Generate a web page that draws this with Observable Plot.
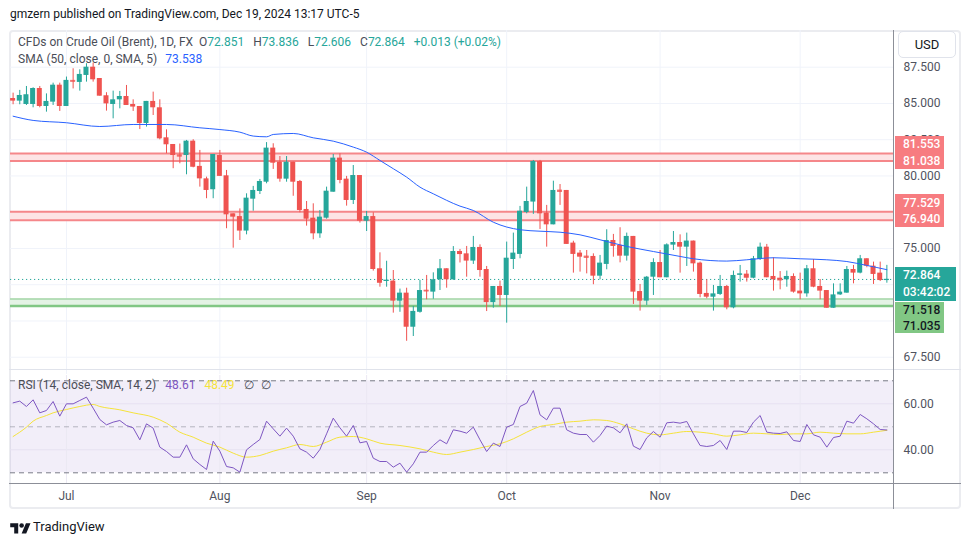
<!DOCTYPE html>
<html><head><meta charset="utf-8">
<script src="https://cdn.jsdelivr.net/npm/d3@7"></script>
<script src="https://cdn.jsdelivr.net/npm/@observablehq/plot@0.6"></script>
<style>
body{margin:0;background:#fff;font-family:Roboto,"Noto Sans",sans-serif;}
#root{position:relative;width:970px;height:545px;overflow:hidden;background:#fff;}
.abs{position:absolute;white-space:nowrap;}
.lbl{position:absolute;left:895px;font-size:12px;line-height:16.5px;padding-left:8px;box-sizing:border-box;font-weight:500;}
</style></head><body><div id="root"></div>
<script>
// ---- data ----
const opens  = [85.34,85.16,84.93,84.93,86.03,84.79,85.09,86.26,84.79,86.59,86.45,86.93,87.50,86.72,85.53,84.93,85.25,85.48,84.93,84.79,83.62,85.14,84.70,82.63,82.17,81.45,81.41,82.40,80.66,79.80,79.05,81.41,80.01,77.39,77.20,76.20,78.40,78.93,79.57,81.92,80.95,79.78,80.95,79.62,77.69,77.09,76.01,77.09,78.88,81.23,79.78,78.31,80.03,76.88,77.20,73.60,72.75,72.75,71.37,71.92,69.57,70.60,72.12,71.99,72.84,73.60,72.84,74.79,74.63,74.13,75.07,73.55,71.27,72.38,71.76,74.24,74.59,77.48,78.20,81.00,77.44,76.63,79.02,79.00,75.37,74.68,74.47,74.45,73.09,73.90,75.55,75.21,74.47,75.83,72.03,71.37,73.02,74.03,72.98,75.23,75.41,75.09,75.51,73.99,71.90,71.64,71.83,72.38,70.91,73.18,73.23,72.95,74.24,75.09,73.07,72.95,72.84,73.07,72.06,71.87,73.60,72.38,72.10,70.88,71.80,71.92,73.55,73.30,74.29,73.78,73.30,72.851];
const highs  = [85.71,85.90,86.17,86.08,86.17,85.66,86.40,86.40,86.82,87.39,87.32,87.74,87.78,86.72,85.74,85.85,85.83,86.24,85.25,84.79,85.14,85.78,85.25,83.18,82.17,82.20,82.45,82.50,81.76,79.92,81.48,81.76,80.38,77.39,77.73,78.77,79.28,79.76,82.30,82.22,81.34,81.34,80.95,79.69,78.24,78.08,77.62,79.23,81.48,81.53,79.97,80.72,80.03,77.55,77.46,74.70,74.12,73.48,72.20,72.26,71.00,72.80,73.14,73.32,74.24,73.60,75.13,74.93,75.14,75.83,75.25,73.76,72.38,72.75,75.44,76.06,77.90,79.23,81.07,81.07,77.97,79.64,79.41,79.00,75.50,74.86,74.86,74.63,74.52,76.29,75.97,76.43,76.06,75.83,72.52,73.07,74.29,74.86,75.32,76.17,75.94,76.06,75.51,74.06,72.84,72.45,73.14,72.45,73.44,73.83,73.48,74.45,75.37,75.28,74.36,73.41,73.44,73.25,73.30,73.83,74.24,72.86,72.10,72.56,72.56,73.76,73.83,74.52,74.29,74.06,74.06,73.836];
const lows   = [84.91,84.91,84.86,84.70,84.70,84.40,84.86,84.45,84.79,86.00,85.85,86.47,86.47,85.50,84.47,83.94,84.63,84.86,84.45,83.20,83.37,84.17,82.49,81.53,80.50,80.84,80.08,80.56,79.23,78.43,78.43,79.97,76.36,75.02,75.55,75.94,77.57,78.72,79.46,80.45,79.57,79.57,78.60,77.46,76.54,75.60,75.70,77.02,78.88,79.46,77.92,78.03,76.75,76.17,73.44,72.33,72.33,70.54,70.60,68.60,68.93,70.54,71.46,71.50,72.10,72.26,72.80,74.00,73.02,73.90,73.02,70.65,70.88,71.00,69.85,73.55,74.29,77.39,77.35,76.31,75.09,76.63,77.97,75.28,73.30,73.37,73.25,72.50,72.84,73.53,74.40,74.01,74.13,71.14,70.68,71.07,71.76,72.98,72.98,74.86,73.30,73.76,73.37,71.60,71.53,70.68,71.76,70.77,70.84,72.68,72.68,72.91,74.17,72.98,72.06,72.15,72.33,71.92,71.46,71.64,72.29,71.46,70.88,70.88,71.76,71.92,72.56,73.25,73.67,72.52,72.72,72.606];
const closes = [85.16,85.55,85.60,86.03,84.79,85.14,86.26,84.79,86.59,86.54,87.00,87.50,86.63,85.50,84.97,85.25,85.48,84.86,84.75,83.62,85.14,84.70,82.56,82.15,81.41,81.38,82.40,80.60,79.80,79.00,81.48,79.97,77.32,77.16,76.20,78.47,79.00,79.62,81.92,80.88,79.78,80.95,79.57,77.62,77.02,76.01,77.16,78.95,81.23,79.69,78.31,80.03,76.88,77.20,73.55,72.60,72.80,71.37,71.92,69.57,70.66,72.10,72.08,72.84,73.60,72.84,74.79,74.58,74.13,75.07,73.48,71.27,72.38,71.76,74.33,74.68,77.57,78.24,81.00,77.39,76.63,79.00,78.95,75.28,74.59,74.40,74.40,73.09,73.99,75.55,75.14,74.47,75.83,71.99,71.37,73.02,74.03,72.98,75.25,75.41,75.09,75.51,73.94,71.83,71.64,71.87,72.38,70.91,73.14,73.23,72.95,74.29,75.09,72.98,72.84,72.84,73.07,71.99,71.87,73.60,72.33,72.06,70.88,71.80,71.99,73.55,73.30,74.29,73.78,73.21,72.79,72.864];

const monthLabels   = ["Jul","Aug","Sep","Oct","Nov","Dec"];
const monthStartIdx = [8,31,53,74,97,118];
const priceTicks = [67.5,70,72.5,75,77.5,80,82.5,85,87.5];
// tick labels that are not hidden behind the price labels in the reference
const priceTickLabels = [67.5,75,80,82.5,85,87.5];

const smaIdx  = [0,3,8,13,18,23,28,31,34,36,38,39,42,45,48,51,53,55,57,59,61,63,67,69,72,76,79,82,85,88,92,96,100,102,107,110,114,118,122,125,128,131];
const smaVals = [84.12,83.83,83.67,83.41,83.55,83.55,83.32,83.2,83.02,82.75,82.7,82.86,82.93,82.63,82.4,81.99,81.64,81.07,80.5,79.92,79.23,78.77,77.92,77.62,76.81,76.29,76.19,76.12,75.94,75.6,75.14,74.79,74.45,74.29,74.13,74.22,74.36,74.29,74.22,74.1,73.83,73.538];

const zoneLow  = [81.038, 76.940, 71.035];
const zoneHigh = [81.553, 77.529, 71.518];
const zoneKind = ["res","res","sup"];

const lastClose = 72.864;
const countdown = "03:42:02";

const rsiVals = [60.42,61.15,58.83,61.73,56.07,57.09,61.0,54.62,59.99,59.99,
 61.44,62.89,58.1,53.17,50.86,52.02,52.74,50.57,49.55,44.34,
 51.29,49.41,41.15,39.26,36.8,36.8,42.16,36.07,33.61,31.44,
 43.76,39.41,32.74,32.16,30.28,39.99,42.31,44.48,52.45,49.12,
 45.93,49.41,45.93,40.42,38.97,36.36,40.13,46.94,53.75,49.55,
 45.93,50.57,43.03,43.61,36.36,34.91,34.91,32.45,34.19,30.28,
 33.9,38.97,38.97,41.87,44.34,42.6,48.68,48.1,47.23,49.84,
 44.34,39.26,42.89,41.44,49.84,51.0,58.83,60.28,65.78,55.2,
 53.03,58.1,58.1,48.68,47.23,46.65,46.65,43.32,46.22,50.28,
 49.55,47.38,51.29,41.58,40.13,45.2,47.96,45.49,51.73,52.02,
 51.58,52.31,46.94,41.87,41.44,41.87,44.05,40.13,48.1,48.1,
 47.52,52.02,54.91,47.67,47.23,47.09,47.81,44.05,43.61,51.0,
 46.51,45.49,41.15,45.35,45.93,52.45,51.58,55.35,53.47,51.29,
 48.83,48.61];
const rsiMaIdx  = [0,2,3,5,6,8,10,12,13,16,18,21,23,25,27,29,31,33,35,37,39,41,43,45,47,49,51,53,55,58,61,63,65,67,69,71,73,75,77,79,81,83,85,87,89,91,93,95,97,99,101,103,105,107,109,111,113,115,117,119,121,123,125,127,129,131];
const rsiMaVals = [45.78,49.84,52.45,54.91,56.07,57.52,58.83,59.7,58.83,57.38,56.07,54.19,51.58,47.67,45.49,42.89,41.15,38.54,36.8,37.52,39.41,40.86,42.31,41.44,43.32,45.49,45.78,44.77,42.89,41.87,40.42,38.97,37.96,38.97,40.13,41.44,42.6,44.77,47.67,50.13,51.0,52.02,52.45,53.03,52.74,51.29,49.12,47.23,46.51,47.23,47.96,47.67,46.94,45.93,46.51,47.23,46.94,46.65,46.94,46.94,47.67,47.23,46.94,46.94,47.67,48.49];
const rsiTicks  = [40, 60];
const rsiBounds = [30, 70];

// ---- build ----
const UP = "#26a69a", DOWN = "#ef5350";
const FONT = 'Roboto,"Noto Sans",sans-serif';
const candles = opens.map((o, i) => ({i, open: o, high: highs[i], low: lows[i], close: closes[i]}));
const col = d => d.close >= d.open ? UP : DOWN;
const sma = smaIdx.map((i, j) => ({i, v: smaVals[j]}));
const zones = zoneLow.map((lo, j) => ({lo, hi: zoneHigh[j], kind: zoneKind[j]}));
const rsi = rsiVals.map((v, i) => ({i, v}));
const rsiMa = rsiMaIdx.map((i, j) => ({i, v: rsiMaVals[j]}));

const xScale = {type: "band", domain: d3.range(opens.length), range: [9.27, 889.7],
  paddingInner: 0.25, paddingOuter: 0.125, align: 0.5, round: false};

const root = document.getElementById("root");
function div(css, html) { const e = document.createElement("div"); e.className = "abs"; e.style.cssText = css; if (html != null) e.innerHTML = html; root.appendChild(e); return e; }

// frame
div("left:9px;top:30px;width:952px;height:479px;border:2px solid #ebecf0;border-radius:4px;box-sizing:border-box;");

const price = Plot.plot({
  width: 970, height: 344, marginLeft: 10, marginRight: 77, marginTop: 0, marginBottom: 0,
  style: {fontFamily: FONT, fontSize: "12px", color: "#50535e", background: "transparent", overflow: "visible"},
  x: {...xScale, axis: null},
  y: {domain: [66.31, 90.03], axis: "right", ticks: priceTickLabels, tickFormat: d3.format(".3f"), tickSize: 0, tickPadding: 10, label: null},
  marks: [
    Plot.ruleY(priceTicks, {stroke: "#f0f3fa"}),
    Plot.ruleX(monthStartIdx, {x: d => d, stroke: "#f0f3fa"}),
    Plot.rect(zones, {y1: "lo", y2: "hi", fill: d => d.kind === "res" ? "#fde4e5" : "#e4f3e5"}),
    Plot.ruleY(zones, {y: "hi", stroke: d => d.kind === "res" ? "#f5878a" : "#a5d6a7", strokeWidth: d => d.kind === "res" ? 2 : 1.5}),
    Plot.ruleY(zones, {y: "lo", stroke: d => d.kind === "res" ? "#f5878a" : "#81c784", strokeWidth: d => d.kind === "res" ? 2 : 2.5}),
    Plot.ruleY([lastClose], {stroke: UP, strokeDasharray: "1.2,2.8"}),
    Plot.ruleX(candles, {x: "i", y1: "low", y2: "high", stroke: col, strokeWidth: 1}),
    Plot.barY(candles, {x: "i", y1: "open", y2: "close", fill: col}),
    Plot.tickY(candles.filter(d => Math.abs(d.close - d.open) < 0.12), {x: "i", y: "close", stroke: col, strokeWidth: 1.2}),
    Plot.line(sma, {x: "i", y: "v", stroke: "#2962ff", strokeWidth: 1, curve: "monotone-x"})
  ]
});
price.style.position = "absolute"; price.style.left = "0px"; price.style.top = "30px";
root.appendChild(price);

const rsiChart = Plot.plot({
  width: 970, height: 133, marginLeft: 10, marginRight: 77, marginTop: 0, marginBottom: 25,
  style: {fontFamily: FONT, fontSize: "12px", color: "#50535e", background: "transparent", overflow: "visible"},
  x: {...xScale, ticks: monthStartIdx, tickFormat: i => monthLabels[monthStartIdx.indexOf(i)] ?? "", tickSize: 0, tickPadding: 8, label: null},
  y: {domain: [25.35, 72.30], axis: "right", ticks: rsiTicks, tickFormat: d3.format(".2f"), tickSize: 0, tickPadding: 10, label: null},
  marks: [
    Plot.rect([{a: rsiBounds[0], b: rsiBounds[1]}], {y1: "a", y2: "b", fill: "#7e57c2", fillOpacity: 0.1}),
    Plot.ruleY(rsiTicks, {stroke: "#e6e1f1"}),
    Plot.ruleX(monthStartIdx, {x: d => d, stroke: "#ebe8f3"}),
    Plot.ruleY(rsiBounds, {stroke: "#787b86", strokeDasharray: "5,4"}),
    Plot.ruleY([50], {stroke: "#787b86", strokeOpacity: 0.5, strokeDasharray: "5,4"}),
    Plot.line(rsiMa, {x: "i", y: "v", stroke: "#f5e33b", strokeWidth: 1, curve: "monotone-x"}),
    Plot.line(rsi, {x: "i", y: "v", stroke: "#7e57c2", strokeWidth: 1})
  ]
});
rsiChart.style.position = "absolute"; rsiChart.style.left = "0px"; rsiChart.style.top = "375px";
root.appendChild(rsiChart);

// separators / axis lines
div("left:9px;top:369px;width:952px;height:1px;background:#e0e3eb;");
div("left:893px;top:30px;width:1px;height:479px;background:#8c8f98;");
div("left:9px;top:483px;width:952px;height:1px;background:#8c8f98;");

// title + legends
div("left:10px;top:7px;font-size:12px;color:#131722;", "gmzern published on TradingView.com, Dec 19, 2024 13:17 UTC-5");
const g = "#4a4d57";
const sp = (t, c, ml) => `<span style="color:${c};margin-left:${ml||0}px">${t}</span>`;
div("left:18px;top:35px;font-size:12px;", sp("CFDs on Crude Oil (Brent), 1D, FX", g) +
  sp("O", g, 6) + sp(opens[131].toFixed(3), UP) +
  sp("H", g, 9) + sp(highs[131].toFixed(3), UP) +
  sp("L", g, 9) + sp(lows[131].toFixed(3), UP) +
  sp("C", g, 9) + sp(closes[131].toFixed(3), UP) +
  sp("+0.013 (+0.02%)", UP, 9));
div("left:18px;top:52px;font-size:12px;", sp("SMA (50, close, 0, SMA, 5)", g) + sp(smaVals[smaVals.length-1].toFixed(3), "#2962ff", 8));
div("left:18px;top:378px;font-size:12px;", sp("RSI (14, close, SMA, 14, 2)", g) + sp(rsiVals[rsiVals.length-1].toFixed(2), "#7e57c2", 9) + sp(rsiMaVals[rsiMaVals.length-1].toFixed(2), "#f5e33b", 9) + sp("∅", g, 9) + sp("∅", g, 7));

// USD box
div("left:898px;top:31px;width:58px;height:27px;border:1px solid #e0e3eb;border-radius:5px;box-sizing:border-box;font-size:13px;color:#131722;text-align:center;line-height:25px;", "USD");

// right price labels, positioned by the chart's y scale
const yP = price.scale("y");
const py = v => 30 + yP.apply(v);
zones.filter(z => z.kind === "res").forEach(z => {
  const e = document.createElement("div"); e.className = "lbl";
  const t = py(z.hi) - 17;
  e.style.cssText += `top:${t}px;width:49px;height:33px;background:#f77c80;color:#fff;`;
  e.innerHTML = `<div style="padding-top:0.5px">${z.hi.toFixed(3)}</div><div>${z.lo.toFixed(3)}</div>`;
  root.appendChild(e);
});
const tTop = py(lastClose) - 12;
const tl = document.createElement("div"); tl.className = "lbl";
tl.style.cssText += `top:${tTop}px;width:61px;height:34px;background:${UP};color:#fff;`;
tl.innerHTML = `<div style="padding-top:0.5px">${lastClose.toFixed(3)}</div><div>${countdown}</div>`;
root.appendChild(tl);
const sup = zones.find(z => z.kind === "sup");
const gl = document.createElement("div"); gl.className = "lbl";
gl.style.cssText += `top:${tTop + 35}px;width:49px;height:31px;background:#81c784;color:#131722;`;
gl.innerHTML = `<div>${sup.hi.toFixed(3)}</div><div>${sup.lo.toFixed(3)}</div>`;
root.appendChild(gl);

// TradingView logo
div("left:10px;top:522px;line-height:0;", '<svg style="display:block" width="21" height="12" viewBox="0 2 36 21"><path d="M14 22H7V11H0V4h14v18zM28 22h-8l7.5-18h8L28 22z" fill="#131722"/><circle cx="20" cy="8" r="4" fill="#131722"/></svg>');
div("left:33px;top:519px;font-size:13px;color:#131722;", "TradingView");
</script></body></html>
